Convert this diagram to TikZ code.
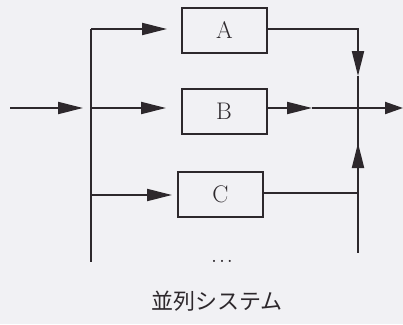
\documentclass[tikz,border=0pt]{standalone}
\usepackage{fontspec}
\newfontfamily\cjk{Noto Sans CJK JP}
\usetikzlibrary{arrows.meta}
\definecolor{ink}{RGB}{45,40,44}
\definecolor{paper}{RGB}{241,241,244}
\tikzset{
  wire/.style={draw=ink, line width=2pt},
  arr/.style={wire, -{Triangle[length=25pt,width=12pt]}},
  block/.style={draw=ink, line width=2pt, minimum width=85pt, minimum height=45pt, inner sep=0pt, font=\fontsize{24}{26}\selectfont, text=ink},
}
\begin{document}
\begin{tikzpicture}[x=1pt,y=-1pt]
\fill[paper] (0,0) rectangle (403,324);
\useasboundingbox (0,0) rectangle (403,324);
% boxes
\node[block] (A) at (224.5,30.5) {A};
\node[block] (B) at (224,111) {B};
\node[block] (C) at (220.5,194) {C};
% left bus
\coordinate (in) at (10,108);
\coordinate (inT) at (83,108);
\coordinate (lT) at (91,29);
\coordinate (lB) at (91,262);
\coordinate (lBm) at (91,108);
\coordinate (lCm) at (91,195);
\coordinate (aT) at (167,29);
\coordinate (bT) at (166,108);
\coordinate (cT) at (172,195);
\draw[wire] (lT) -- (lB);
\draw[arr] (in) -- (inT);
\draw[arr] (lT) -- (aT);
\draw[arr] (lBm) -- (bT);
\draw[arr] (lCm) -- (cT);
% right bus
\coordinate (rT) at (358,29);
\coordinate (rA) at (358,76);
\coordinate (rB) at (358,253);
\coordinate (rC) at (358,193);
\coordinate (rCt) at (358,143);
\coordinate (bm) at (312,108);
\coordinate (out) at (403,108);
\draw[arr] (A.east |- rT) -- (rT) -- (rA);
\draw[wire] (rA) -- (rB);
\draw[wire] (C.east |- rC) -- (rC);
\draw[arr] (rC) -- (rCt);
\draw[arr] (B.east |- bm) -- (bm);
\draw[wire, -{Triangle[length=18pt,width=12pt]}] (bm) -- (out);
% labels
\node[text=ink, font=\fontsize{26}{28}\selectfont, anchor=base] (dots) at (222,262) {.\kern1.3pt.\kern1.3pt.};
\node[text=ink, font=\cjk\fontsize{22}{24}\selectfont] (cap) at (217,301) {並列システム};
\end{tikzpicture}
\end{document}
